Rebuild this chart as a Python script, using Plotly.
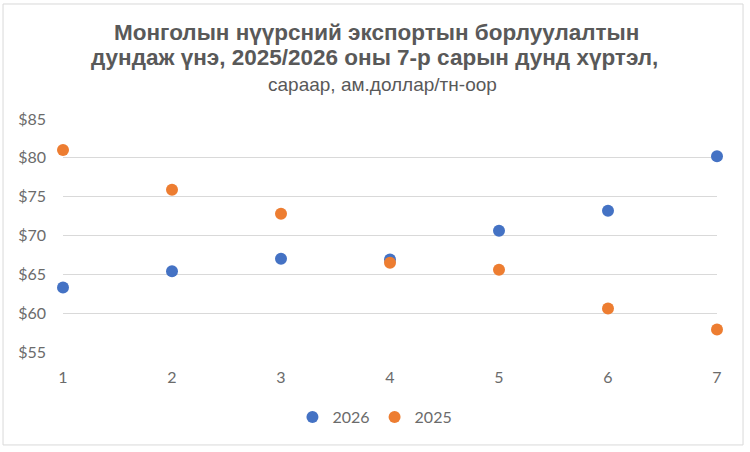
import plotly.graph_objects as go

months = [1, 2, 3, 4, 5, 6, 7]
price_2026 = [63.3, 65.4, 67.0, 66.9, 70.6, 73.2, 80.2]
price_2025 = [81.0, 75.9, 72.8, 66.5, 65.6, 60.6, 57.9]
y_ticks = [55, 60, 65, 70, 75, 80, 85]
y_tick_labels = ["$" + str(v) for v in y_ticks]

title_l1 = "Монголын нүүрсний экспортын борлуулалтын"
title_l2 = "дундаж үнэ, 2025/2026 оны 7-р сарын дунд хүртэл,"
subtitle = "сараар, ам.доллар/тн-оор"

gray = "#595959"
tick_gray = "#6b6b6b"
fig = go.Figure()
fig.add_trace(go.Scatter(x=months, y=price_2026, mode="markers", name="2026",
                         marker=dict(color="#4472C4", size=12), cliponaxis=False))
fig.add_trace(go.Scatter(x=months, y=price_2025, mode="markers", name="2025",
                         marker=dict(color="#ED7D31", size=12), cliponaxis=False))

title_font = dict(family="Liberation Sans, Arial, sans-serif", size=22.5, color=gray)
fig.update_layout(
    width=750, height=452,
    margin=dict(l=63, r=33, t=119, b=100, autoexpand=False),
    paper_bgcolor="white", plot_bgcolor="white",
    font=dict(family="Lato, Liberation Sans, sans-serif", color=tick_gray, size=16),
    showlegend=True,
    legend=dict(orientation="h", x=0.477, xanchor="center", y=-0.279, yanchor="middle",
                font=dict(size=16, color=tick_gray), itemwidth=30),
    xaxis=dict(range=[1, 7], tickvals=months, showgrid=False, zeroline=False,
               showline=False, ticks="", ticklabelstandoff=14,
               tickfont=dict(size=16, color=tick_gray)),
    yaxis=dict(range=[55, 85], tickvals=y_ticks, ticktext=y_tick_labels,
               showgrid=True, gridcolor="#D9D9D9", gridwidth=1, zeroline=False,
               showline=False, ticks="", ticklabelstandoff=16,
               tickfont=dict(size=16, color=tick_gray)),
    annotations=[
        dict(text="<b>" + title_l1 + "</b>", xref="paper", yref="paper", x=0.48, y=1,
             xanchor="center", yanchor="middle", yshift=87, showarrow=False, font=title_font),
        dict(text="<b>" + title_l2 + "</b>", xref="paper", yref="paper", x=0.476, y=1,
             xanchor="center", yanchor="middle", yshift=62, showarrow=False, font=title_font),
        dict(text=subtitle, xref="paper", yref="paper", x=0.488, y=1,
             xanchor="center", yanchor="middle", yshift=35, showarrow=False,
             font=dict(family="Liberation Sans, Arial, sans-serif", size=19, color=gray)),
    ],
    shapes=[dict(type="rect", xref="paper", yref="paper",
                 x0=-0.0917, x1=1.0398, y0=-0.399, y1=1.4936,
                 line=dict(color="#D9D9D9", width=1))],
)

fig.write_html("out.html", config={"displayModeBar": False},
               post_script="document.body.style.margin='0px';")
